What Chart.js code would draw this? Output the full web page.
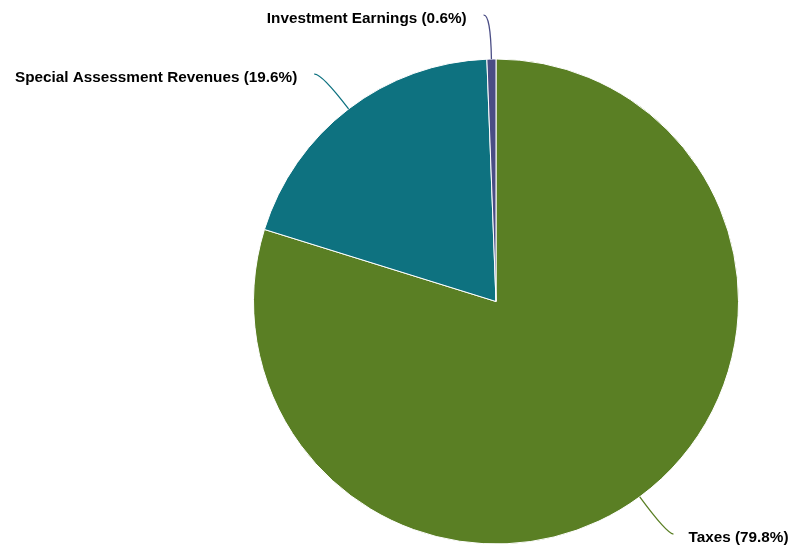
<!DOCTYPE html>
<html><head><meta charset="utf-8">
<script src="https://cdn.jsdelivr.net/npm/chart.js@4"></script>
<style>html,body{margin:0;padding:0;background:#fff;}#wrap{width:791px;height:550px;}</style>
</head><body><div id="wrap"><canvas id="c"></canvas></div>
<script>
const categories = ["Taxes", "Special Assessment Revenues", "Investment Earnings"];
const values = [79.8, 19.6, 0.6];
const colors = ["#5a7f24", "#0e7280", "#4a4d85"];

const leaderPlugin = {
  id: 'leaders',
  afterDatasetsDraw(chart) {
    const ctx = chart.ctx;
    const meta = chart.getDatasetMeta(0);
    const total = values.reduce((a, b) => a + b, 0);
    ctx.save();
    meta.data.forEach((arc, i) => {
      const p = arc.getProps(['x', 'y', 'startAngle', 'endAngle', 'outerRadius'], true);
      const mid = (p.startAngle + p.endAngle) / 2;
      const cos = Math.cos(mid), sin = Math.sin(mid);
      const x0 = p.x + p.outerRadius * cos, y0 = p.y + p.outerRadius * sin;
      const ext = p.outerRadius + 45;
      const cx = p.x + ext * cos, cy = p.y + ext * sin;
      const right = cos >= 0 && Math.abs(cos) > 0.05;
      const dir = right ? 1 : -1;
      const ex = cx + dir * 7, ey = cy + 1;
      ctx.beginPath();
      ctx.moveTo(x0, y0);
      ctx.quadraticCurveTo(cx, cy, ex, ey);
      ctx.strokeStyle = colors[i];
      ctx.lineWidth = 1.3;
      ctx.stroke();
      const pct = (values[i] / total * 100).toFixed(1);
      const txt = categories[i] + ' (' + pct + '%)';
      ctx.font = 'bold 15.3px "Liberation Sans", Arial, sans-serif';
      ctx.textBaseline = 'middle';
      ctx.textAlign = right ? 'left' : 'right';
      ctx.lineWidth = 2;
      ctx.strokeStyle = '#ffffff';
      ctx.lineJoin = 'round';
      const tx = ex + dir * (right ? 15 : 17), ty = ey + 4;
      ctx.strokeText(txt, tx, ty);
      ctx.fillStyle = '#000000';
      ctx.fillText(txt, tx, ty);
    });
    ctx.restore();
  }
};

new Chart(document.getElementById('c'), {
  type: 'pie',
  data: {
    labels: categories,
    datasets: [{
      data: values,
      backgroundColor: colors,
      borderColor: '#ffffff',
      borderWidth: 1,
      hoverOffset: 0
    }]
  },
  options: {
    responsive: true,
    maintainAspectRatio: false,
    animation: false,
    layout: { padding: { left: 253, right: 52, top: 58, bottom: 5 } },
    plugins: { legend: { display: false }, tooltip: { enabled: false } }
  },
  plugins: [leaderPlugin]
});
</script>
</body></html>
